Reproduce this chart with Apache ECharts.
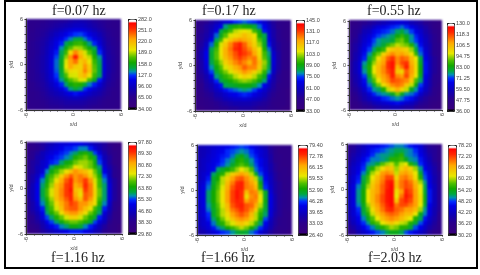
<!DOCTYPE html>
<html><head><meta charset="utf-8">
<script src="https://cdn.jsdelivr.net/npm/echarts@6/dist/echarts.min.js"></script>
<style>html,body{margin:0;padding:0;background:#fff}#c{width:480px;height:275px;background:#fff}
#c canvas[data-zr-dom-id="zr_-1"]{filter:blur(1.2px)}
#c canvas[data-zr-dom-id="zr_0"]{filter:blur(0.4px)}</style>
</head><body><div id="c"></div>
<script>
const titles=["f=0.07 hz","f=0.17 hz","f=0.55 hz","f=1.16 hz","f=1.66 hz","f=2.03 hz"];
const ticks007=["34.00","65.00","96.00","127.0","158.0","189.0","220.0","251.0","282.0"];
const ticks017=["33.00","47.00","61.00","75.00","89.00","103.0","117.0","131.0","145.0"];
const ticks055=["36.00","47.75","59.50","71.25","83.00","94.75","106.5","118.3","130.0"];
const ticks116=["29.80","38.30","46.80","55.30","63.80","72.30","80.80","89.30","97.80"];
const ticks166=["26.40","33.03","39.65","46.28","52.90","59.53","66.15","72.78","79.40"];
const ticks203=["30.20","36.20","42.20","48.20","54.20","60.20","66.20","72.20","78.20"];
const z007=[
[66,66,68,70,72,74,76,78,80,84,88,90,88,84,78,74,72,70,68,66],
[66,68,70,72,74,78,82,86,90,94,98,98,96,90,84,78,74,70,68,66],
[68,68,72,74,78,84,90,96,102,108,112,112,108,100,92,84,78,72,70,68],
[68,70,72,76,82,90,98,106,114,120,128,130,122,112,102,92,82,74,70,68],
[68,70,74,80,86,96,106,116,126,136,148,150,136,124,112,100,86,76,72,68],
[68,72,76,82,90,100,112,124,146,158,170,172,160,142,124,106,90,78,72,70],
[68,72,76,84,92,104,116,138,160,178,190,188,176,160,146,118,94,80,74,70],
[70,72,76,84,94,106,122,146,172,205,235,215,195,178,156,126,98,82,74,70],
[70,72,78,86,96,108,130,150,185,232,262,225,205,192,165,140,102,84,76,70],
[70,74,78,86,96,110,134,155,196,228,240,212,222,200,172,146,106,84,76,70],
[70,74,78,86,96,110,134,155,198,225,212,208,232,212,178,148,108,86,76,70],
[70,72,78,86,96,108,132,152,190,205,202,210,236,215,180,148,108,86,76,70],
[70,72,76,84,94,106,128,148,176,195,196,212,222,202,172,146,104,84,74,70],
[68,72,76,82,92,104,120,140,160,178,186,196,196,176,154,122,98,82,74,68],
[68,70,74,80,88,98,110,124,144,160,168,166,150,136,122,106,90,78,72,68],
[68,70,72,78,84,92,100,110,122,142,150,144,126,116,104,94,84,74,70,68],
[66,68,70,74,80,86,92,98,106,114,120,116,108,100,92,86,78,72,68,66],
[66,68,70,72,76,80,84,88,92,96,98,96,92,86,82,78,72,70,68,66],
[64,66,68,70,72,76,78,80,84,84,84,84,82,78,76,72,70,68,66,64],
[64,64,66,68,70,72,72,74,76,76,76,76,74,72,70,70,68,66,64,64]];
const z017=[
[46,48,50,54,58,62,66,70,74,76,78,76,74,70,64,58,52,48,46,44],
[46,50,54,58,64,70,82,88,92,94,92,90,86,78,70,62,54,48,46,44],
[46,50,54,60,68,84,90,96,104,106,108,106,96,88,72,64,56,50,46,44],
[48,52,56,62,78,88,98,106,110,112,116,112,108,92,84,66,56,50,46,44],
[48,52,58,70,84,96,108,114,120,122,120,116,110,98,86,68,58,50,48,44],
[48,54,62,78,92,106,114,124,132,136,128,120,112,102,88,72,58,52,48,46],
[48,56,66,84,96,108,118,126,134,137,130,124,116,108,92,78,60,52,48,46],
[50,58,70,86,98,108,118,124,130,136,132,128,120,110,96,82,64,54,48,46],
[50,58,70,86,98,106,116,122,128,132,128,124,126,112,98,84,66,54,48,46],
[48,56,68,84,94,102,112,118,124,128,124,118,126,116,102,86,66,54,48,46],
[48,56,66,80,90,98,106,112,118,122,128,124,124,114,100,84,64,54,48,46],
[48,54,62,76,86,94,100,106,112,116,122,118,112,104,94,80,62,52,46,44],
[46,52,58,68,82,88,94,98,104,108,112,110,104,96,88,72,58,50,46,44],
[46,50,56,62,74,84,88,92,96,100,102,100,96,90,82,66,56,50,46,44],
[44,48,54,58,66,72,84,86,88,90,90,90,86,80,70,62,54,48,46,44],
[44,48,52,56,62,66,72,76,78,80,82,80,76,70,64,58,52,48,44,42],
[42,46,50,52,58,60,64,68,70,72,74,72,68,64,60,54,50,46,44,42],
[42,44,48,50,54,56,60,62,64,64,66,64,62,60,56,52,48,46,44,42],
[42,44,46,48,50,52,54,56,58,58,58,58,56,54,52,50,46,44,44,42],
[40,42,44,46,48,50,50,52,52,54,54,54,52,50,50,48,46,44,42,40]];
const z055=[
[44,46,48,50,52,54,56,58,60,62,64,64,62,58,56,54,50,48,46,44],
[46,48,50,54,56,60,64,66,68,70,72,74,70,66,62,58,54,50,46,44],
[46,50,52,58,60,66,68,70,72,74,78,80,76,72,66,62,56,52,48,46],
[48,50,56,60,64,68,72,74,76,78,84,88,82,76,70,64,58,54,50,46],
[48,52,56,62,66,72,76,78,78,80,90,92,86,76,72,66,60,54,50,46],
[50,54,58,64,68,74,77,80,88,92,96,94,92,86,76,68,60,56,50,48],
[50,54,60,66,72,78,84,88,100,104,106,104,102,94,80,72,62,56,50,48],
[50,56,60,68,76,86,92,102,108,112,108,110,106,100,88,74,64,56,50,48],
[50,56,62,70,80,90,100,108,116,120,112,116,114,106,98,80,66,58,52,48],
[52,58,64,76,84,94,104,110,120,124,112,118,120,108,100,82,68,58,52,48],
[52,58,64,78,86,98,106,112,120,124,108,114,122,110,100,84,68,58,52,48],
[52,58,64,76,86,98,106,112,118,122,104,102,116,110,100,84,68,58,52,48],
[52,56,62,72,82,94,104,110,114,122,112,110,118,108,98,82,66,58,50,48],
[50,56,60,68,78,90,98,108,112,118,116,114,112,104,90,78,64,56,50,48],
[50,54,60,66,74,80,92,100,106,112,114,112,104,96,84,72,62,56,50,46],
[48,52,56,62,70,76,78,86,96,102,108,102,96,82,76,68,60,54,48,46],
[46,50,54,58,64,70,74,76,78,82,92,82,76,74,70,62,56,52,48,44],
[44,48,52,56,60,64,66,70,72,74,76,74,70,68,62,56,52,48,46,44],
[44,46,48,52,54,58,60,62,64,66,68,66,62,60,56,52,50,46,44,42],
[42,44,46,48,50,52,54,56,56,58,58,56,54,54,50,48,46,44,42,42]];
const z116=[
[36,38,40,42,44,46,48,50,50,52,52,52,50,48,46,44,42,38,36,34],
[36,38,40,42,46,48,50,52,54,54,56,58,58,54,50,46,42,40,36,36],
[36,40,42,46,48,50,52,54,56,58,60,64,66,62,56,50,44,40,38,36],
[38,40,44,46,50,52,54,56,58,60,66,68,70,66,62,54,46,42,38,36],
[38,42,44,48,50,54,56,60,64,66,70,72,72,70,64,56,48,42,38,36],
[38,42,46,48,52,60,64,66,68,70,76,74,72,70,66,60,50,44,40,36],
[40,42,46,50,58,64,68,72,76,80,84,82,80,76,70,62,52,46,40,38],
[40,44,48,54,62,68,72,78,84,88,84,86,84,78,72,66,56,46,40,38],
[40,44,50,58,64,70,76,82,88,92,84,86,90,84,74,68,58,48,42,38],
[40,46,52,60,66,72,80,84,90,92,82,84,91,86,76,68,60,50,42,38],
[42,46,52,61,68,74,80,85,90,94,80,78,90,86,77,70,60,50,42,38],
[42,46,52,61,68,74,80,85,90,92,82,76,88,86,77,70,60,50,42,38],
[40,46,52,60,66,72,80,84,88,92,84,80,88,84,76,68,60,50,42,38],
[40,44,50,58,64,70,77,82,86,90,88,84,84,80,76,66,58,48,40,38],
[40,44,48,54,62,68,74,80,86,88,88,84,80,76,68,62,54,46,40,36],
[38,42,46,52,60,66,70,76,82,84,84,80,76,70,66,60,50,44,38,36],
[38,40,44,50,56,60,66,70,74,78,78,74,70,66,62,54,48,42,38,36],
[36,40,42,46,52,56,60,64,68,70,70,68,66,62,56,50,46,40,36,36],
[36,38,40,44,48,52,54,58,60,64,64,62,58,54,50,46,42,38,36,34],
[34,36,38,42,44,46,48,50,52,54,54,54,52,50,46,44,40,38,36,34]];
const z166=[
[38,39,40,41,42,43,44,45,46,47,46,44,42,40,38,35,33,32,32,32],
[38,39,40,42,43,44,46,47,48,49,48,46,44,42,40,36,34,32,32,32],
[38,39,41,42,44,45,46,48,51,53,50,47,45,42,40,37,34,33,32,32],
[38,40,41,43,44,46,48,50,54,55,52,49,46,44,41,37,34,33,32,32],
[38,40,42,43,45,47,49,52,55,57,55,50,47,44,41,38,35,33,32,32],
[39,40,42,44,50,52,54,56,59,62,60,57,48,45,42,38,35,33,33,32],
[39,41,43,50,53,55,60,64,66,68,66,60,52,47,43,39,36,34,33,32],
[39,41,45,52,54,60,64,68,71,72,69,66,60,50,44,40,36,34,33,33],
[40,42,47,52,56,60,66,70,74,75,70,68,64,53,45,40,37,35,33,33],
[40,43,48,53,57,61,67,72,75,75,70,69,66,55,46,41,37,35,33,33],
[41,43,50,54,58,62,68,73,76,74,66,70,69,60,52,42,37,35,34,33],
[41,43,50,54,58,62,68,73,76,74,63,69,70,62,52,43,38,35,34,33],
[41,43,50,54,58,62,68,73,75,74,68,70,69,62,53,43,38,35,34,33],
[40,43,49,53,57,61,66,72,74,75,72,71,67,60,52,43,38,35,34,33],
[40,42,48,52,56,60,65,70,72,74,72,69,64,57,51,42,38,35,33,33],
[40,42,46,52,56,60,63,68,70,72,70,66,60,55,50,42,37,35,33,32],
[39,41,45,50,54,58,61,65,68,69,68,64,60,54,47,40,36,34,33,32],
[39,41,43,48,52,55,59,61,64,65,63,60,56,50,44,39,36,34,33,32],
[38,40,42,45,48,50,54,56,58,60,58,54,50,46,42,38,35,33,33,32],
[37,38,40,42,44,46,47,49,51,52,51,48,46,42,39,36,34,33,32,31]];
const z203=[
[37,38,40,42,44,45,46,47,48,49,50,50,49,47,46,44,40,38,37,35],
[37,39,41,43,45,47,48,49,50,51,52,52,51,50,48,45,42,39,38,36],
[38,40,42,44,46,48,50,51,51,52,54,56,51,50,49,46,43,40,38,36],
[38,41,43,46,48,50,50,51,52,56,56,57,54,51,50,47,44,41,38,36],
[39,42,44,47,50,51,53,58,60,61,58,61,62,56,52,48,45,42,39,37],
[40,43,45,48,52,56,60,63,66,65,60,64,66,64,60,51,46,43,40,37],
[40,43,46,50,54,60,63,68,69,68,61,67,68,66,62,53,48,44,40,38],
[41,44,47,52,57,62,66,69,72,72,64,69,70,68,63,56,49,45,41,38],
[41,44,48,53,58,64,67,70,74,75,66,70,72,70,66,60,51,45,41,38],
[42,45,50,54,60,65,68,71,74,76,66,70,72,71,67,62,52,46,42,38],
[42,45,51,55,62,66,68,71,75,76,63,68,74,72,68,62,53,47,42,38],
[42,45,51,55,62,66,69,72,75,76,62,70,75,73,68,63,54,47,42,38],
[42,45,51,55,62,66,69,72,75,76,65,72,74,72,68,63,54,47,42,38],
[42,45,50,54,60,65,68,71,74,76,70,72,72,70,68,62,53,46,42,38],
[41,44,48,53,58,63,67,70,73,74,71,70,68,68,66,60,51,45,41,38],
[41,44,47,52,56,61,65,68,70,71,70,68,66,66,62,54,50,45,41,37],
[40,43,46,50,54,58,62,66,68,69,68,66,64,62,56,52,47,43,40,37],
[39,42,45,48,51,56,58,62,64,65,63,61,60,56,53,49,45,42,39,36],
[38,40,43,46,48,50,53,56,58,60,59,56,56,53,49,46,43,40,38,36],
[37,38,41,43,45,47,49,50,52,54,54,52,49,47,45,43,41,38,36,35]];

const panels=[
 {t:titles[0],ticks:ticks007,z:z007,min:34,max:282,plot:[26,19,95,91],bar:[128,19,8,90],tx:82,ty:12},
 {t:titles[1],ticks:ticks017,z:z017,min:33,max:145,plot:[195,20,96,91],bar:[296,20,8,91],tx:232,ty:12},
 {t:titles[2],ticks:ticks055,z:z055,min:36,max:130,plot:[349,21,93,89],bar:[447,23,7,88],tx:397,ty:12},
 {t:titles[3],ticks:ticks116,z:z116,min:29.8,max:97.8,plot:[26,142,96,92],bar:[128,142,8,92],tx:81,ty:259},
 {t:titles[4],ticks:ticks166,z:z166,min:26.4,max:79.4,plot:[197,145,95,90],bar:[298,145,9,90],tx:231,ty:259},
 {t:titles[5],ticks:ticks203,z:z203,min:30.2,max:78.2,plot:[347,144,95,91],bar:[448,145,8,90],tx:398,ty:259}
];

const stops=[[0,'#000000'],[.015,'#000000'],[.03,'#38007c'],[.14,'#2a008c'],[.24,'#0c00b8'],[.33,'#0000e8'],[.38,'#0030ff'],[.42,'#0090b0'],[.46,'#00a840'],[.52,'#10a800'],[.58,'#50c000'],[.66,'#e8e800'],[.78,'#ffa800'],[.9,'#ff2800'],[.965,'#ff0000'],[.975,'#ffffff'],[1,'#ffffff']];
function hex(c){return [1,3,5].map(i=>parseInt(c.substr(i,2),16));}
const ramp=[];
for(let i=0;i<=200;i++){const t=i/200;let k=0;while(k<stops.length-2&&t>stops[k+1][0])k++;
 const a=stops[k],b=stops[k+1],f=(t-a[0])/(b[0]-a[0]),A=hex(a[1]),B=hex(b[1]);
 ramp.push('rgb('+A.map((v,j)=>Math.round(v+(B[j]-v)*f)).join(',')+')');}

function renderCell(params,api){
 const p=api.coord([api.value(0),api.value(1)]),s=api.size([1,1]);
 const x0=Math.floor(p[0]-s[0]/2),y0=Math.floor(p[1]-s[1]/2),x1=Math.ceil(p[0]+s[0]/2),y1=Math.ceil(p[1]+s[1]/2);
 return {type:'rect',shape:{x:x0,y:y0,width:x1-x0,height:y1-y0},style:{fill:api.visual('color')}};
}

const grid=[],xAxis=[],yAxis=[],series=[],visualMap=[],graphic=[];
const labelCol='#444';
panels.forEach((p,i)=>{
 const gi=grid.length;
 grid.push({left:p.plot[0],top:p.plot[1],width:p.plot[2],height:p.plot[3]});
 grid.push({left:p.bar[0],top:p.bar[1],width:p.bar[2],height:p.bar[3]});
 const cols=p.z[0].map((_,c)=>String(c)),rows=p.z.map((_,r)=>String(r));
 const xi=xAxis.length,yi=yAxis.length;
 xAxis.push({type:'category',gridIndex:gi,data:cols,show:false,position:'bottom'});
 yAxis.push({type:'category',gridIndex:gi,data:rows,show:false,inverse:true,position:'left'});
 const valAxis={type:'value',gridIndex:gi,min:-6,max:6,interval:6,splitLine:{show:false},
  axisLine:{show:true,onZero:false,lineStyle:{color:'#333',width:1}},
  axisTick:{show:true,length:1.5,lineStyle:{color:'#333',width:1}},
  minorTick:{show:true,splitNumber:6,length:1.5,lineStyle:{color:'#333',width:1}},
  nameLocation:'middle',nameTextStyle:{fontSize:5.5,color:labelCol,fontFamily:'Liberation Sans'}};
 xAxis.push(Object.assign({},valAxis,{position:'bottom',name:'x/d',nameGap:8,
  axisLabel:{fontSize:5.5,color:labelCol,margin:3,rotate:90,fontFamily:'Liberation Sans',showMinLabel:true,showMaxLabel:true}}));
 yAxis.push(Object.assign({},valAxis,{position:'left',name:'y/d',nameGap:10,
  axisLabel:{fontSize:5.5,color:labelCol,margin:3,fontFamily:'Liberation Sans',showMinLabel:true,showMaxLabel:true}}));
 xAxis.push({type:'value',gridIndex:gi+1,show:false,min:0,max:1});
 yAxis.push({type:'category',gridIndex:gi+1,position:'right',data:p.ticks,boundaryGap:false,
  axisLine:{show:false},axisTick:{show:true,length:2,lineStyle:{color:'#333',width:1},alignWithLabel:true},
  axisLabel:{interval:0,fontSize:5.5,color:labelCol,margin:2,fontFamily:'Liberation Sans'},splitLine:{show:false}});
 const data=[];
 p.z.forEach((row,r)=>row.forEach((v,c)=>data.push([c,r,v])));
 series.push({type:'custom',zlevel:-1,xAxisIndex:xi,yAxisIndex:yi,data,silent:true,animation:false,clip:false,renderItem:renderCell,encode:{x:0,y:1,tooltip:2}});
 visualMap.push({type:'continuous',seriesIndex:i,dimension:2,min:p.min,max:p.max,left:p.bar[0],top:p.bar[1],itemWidth:p.bar[2],itemHeight:p.bar[3],
  padding:0,calculable:false,text:null,showLabel:false,hoverLink:false,realtime:false,
  borderColor:'#222',borderWidth:1,inRange:{color:ramp}});
 graphic.push({type:'text',left:p.tx-30,top:p.ty-8,style:{text:p.t,fill:'#222',font:'14px "Liberation Serif"',width:60,align:'left'}});
});
graphic.push({type:'rect',z:10,shape:{x:5,y:1,width:472,height:267},style:{fill:'none',stroke:'#000',lineWidth:2}});

const chart=echarts.init(document.getElementById('c'),null,{renderer:'canvas'});
chart.setOption({animation:false,grid,xAxis,yAxis,series,visualMap,graphic,tooltip:{show:false}});
</script></body></html>
